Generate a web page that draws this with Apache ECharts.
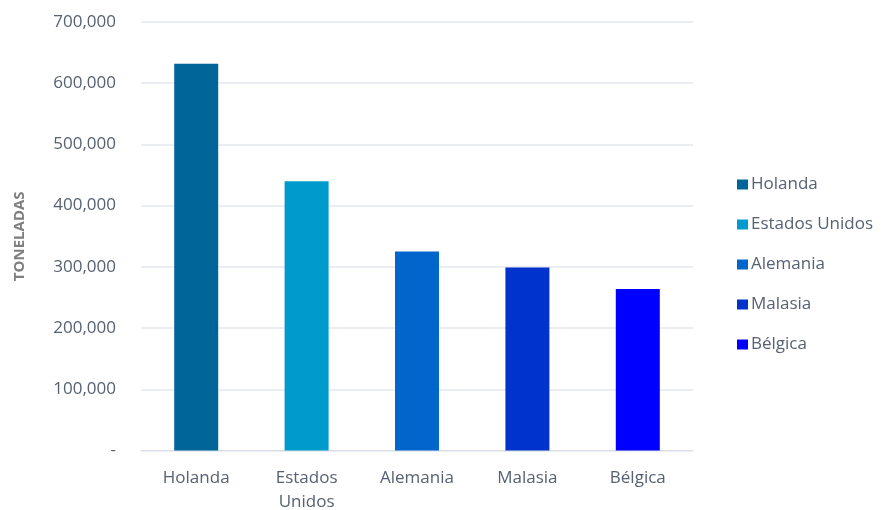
<!DOCTYPE html>
<html><head><meta charset="utf-8">
<script src="https://cdn.jsdelivr.net/npm/echarts@6/dist/echarts.min.js"></script>
<style>html,body{margin:0;padding:0;background:#fff}#c{width:882px;height:510px}</style>
</head><body><div id="c"></div>
<script>
var categories = ['Holanda', 'Estados Unidos', 'Alemania', 'Malasia', 'Bélgica'];
var axisLabels = ['Holanda', 'Estados\nUnidos', 'Alemania', 'Malasia', 'Bélgica'];
var values = [632000, 440000, 325000, 299000, 264000];
var colors = ['#00669A', '#009BCD', '#0066CC', '#0033CC', '#0000FF'];
var yTicks = [0, 100000, 200000, 300000, 400000, 500000, 600000, 700000];

var series = categories.map(function (name, i) {
  return {
    name: name,
    type: 'bar',
    stack: 'total',
    barWidth: 44,
    itemStyle: { color: colors[i] },
    data: categories.map(function (c, j) { return j === i ? values[i] : null; })
  };
});

var textColor = '#566173';
var chart = echarts.init(document.getElementById('c'), null, { renderer: 'canvas' });
chart.setOption({
  animation: false,
  grid: { left: 141, right: 189, top: 22, bottom: 59.5, containLabel: false, outerBoundsMode: 'none' },
  legend: {
    orient: 'vertical',
    left: 732, top: 171,
    itemWidth: 11, itemHeight: 10, itemGap: 23,
    icon: 'rect',
    textStyle: { fontFamily: 'Open Sans', fontSize: 17, color: textColor, padding: [0, 0, 0, -2] },
    data: categories
  },
  xAxis: {
    type: 'category',
    data: axisLabels,
    axisLine: { lineStyle: { color: '#D9DEE6' } },
    axisTick: { show: false },
    axisLabel: { fontFamily: 'Open Sans', fontSize: 17, color: textColor, margin: 16, lineHeight: 24, interval: 0 }
  },
  yAxis: {
    type: 'value',
    min: yTicks[0], max: yTicks[yTicks.length - 1], interval: 100000,
    name: 'TONELADAS',
    nameLocation: 'middle',
    nameGap: 114,
    nameTextStyle: { fontFamily: 'Open Sans', fontSize: 15, fontWeight: 'bold', color: '#7F7F7F' },
    axisLine: { show: false },
    axisTick: { show: false },
    splitLine: { lineStyle: { color: '#E3E7EE', width: 1.5 } },
    axisLabel: {
      fontFamily: 'Open Sans', fontSize: 17, color: textColor, margin: 25,
      formatter: function (v) { return v === 0 ? '-' : v.toLocaleString('en-US'); }
    }
  },
  series: series
});
</script></body></html>
